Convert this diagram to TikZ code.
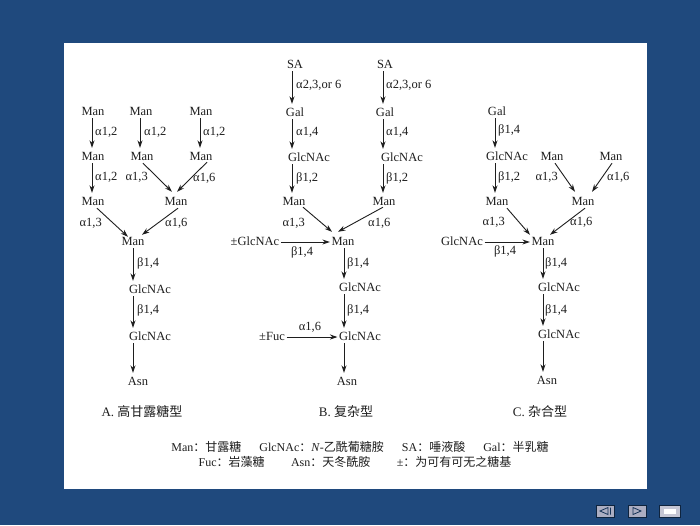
\documentclass[tikz,border=0pt]{standalone}
\usepackage{fontspec}
\setmainfont{Liberation Serif}
\newfontfamily\cjk{Noto Sans CJK SC}
\usepackage{xcolor}
\usepackage{tikz}
\usetikzlibrary{arrows.meta}
\definecolor{slide}{RGB}{31,73,125}
\definecolor{ink}{RGB}{30,30,30}
\definecolor{btn}{RGB}{172,174,194}

\begin{document}
\begin{tikzpicture}[x=1pt,y=-1pt,
    sug/.style={inner sep=1.5pt, text height=8pt, text depth=1pt, font=\fontsize{12.5}{14}\selectfont, text=ink},
    lab/.style={inner sep=0pt, font=\fontsize{12.5}{14}\selectfont, text=ink},
    key/.style={inner sep=0pt, font=\fontsize{12}{14}\selectfont, text=ink},
    bond/.style={draw=ink, line width=0.9pt, -{Stealth[length=7.5pt,width=5pt]}},
    vbond/.style={bond, shorten >=3pt}]
    \useasboundingbox (0,0) rectangle (700,525);
    \fill[slide] (0,0) rectangle (700,525);
    \fill[white] (64,43) rectangle (647,489);

    % columns of the vertical bonds
    \coordinate (ca1) at (92,0);
    \coordinate (ca2) at (140,0);
    \coordinate (ca3) at (200,0);
    \coordinate (ca) at (133,0);
    \coordinate (cb1) at (292,0);
    \coordinate (cb2) at (383,0);
    \coordinate (cb) at (344,0);
    \coordinate (cc1) at (495,0);
    \coordinate (cc) at (543,0);

    % A: high mannose
    \node[sug] (am11) at (93,112) {Man};
    \node[sug] (am12) at (141,112) {Man};
    \node[sug] (am13) at (201,112) {Man};
    \node[sug] (am21) at (93,157) {Man};
    \node[sug] (am22) at (142,157) {Man};
    \node[sug] (am23) at (201,157) {Man};
    \node[sug] (am31) at (93,202) {Man};
    \node[sug] (am32) at (176,202) {Man};
    \node[sug] (am4) at (133,242) {Man};
    \node[sug] (agn1) at (150,290) {GlcNAc};
    \node[sug] (agn2) at (150,337) {GlcNAc};
    \node[sug] (aasn) at (138,382) {Asn};
    \node[sug,font=\fontsize{13}{15}\selectfont] (capa) at (142,413) {A. {\cjk 高甘露糖型}};

    \draw[vbond] (am11.south -| ca1) -- (am21.north -| ca1);
    \draw[vbond] (am12.south -| ca2) -- (am22.north -| ca2);
    \draw[vbond] (am13.south -| ca3) -- (am23.north -| ca3);
    \draw[vbond] (am21.south -| ca1) -- (am31.north -| ca1);
    \draw[bond] ([xshift=1pt]am22.south) -- ([xshift=-4pt,yshift=4pt]am32.north);
    \draw[bond] ([xshift=6pt,yshift=1pt]am23.south) -- ([xshift=1pt,yshift=4pt]am32.north);
    \draw[bond] ([xshift=4pt]am31.south) -- ([xshift=-5pt,yshift=-1pt]am4.north);
    \draw[bond] ([xshift=2pt]am32.south) -- ([xshift=9pt,yshift=1pt]am4.north);
    \draw[vbond] (am4.south -| ca) -- (agn1.north -| ca);
    \draw[vbond] (agn1.south -| ca) -- (agn2.north -| ca);
    \draw[vbond] (agn2.south -| ca) -- (aasn.north -| ca);

    \node[lab,anchor=west] (la1) at (95,132) {α1,2};
    \node[lab,anchor=west] (la2) at (144,132) {α1,2};
    \node[lab,anchor=west] (la3) at (203,132) {α1,2};
    \node[lab,anchor=west] (la4) at (95,177) {α1,2};
    \node[lab,anchor=east] (la5) at (148,177) {α1,3};
    \node[lab,anchor=west] (la6) at (193,178) {α1,6};
    \node[lab,anchor=east] (la7) at (102,223) {α1,3};
    \node[lab,anchor=west] (la8) at (165,223) {α1,6};
    \node[lab,anchor=west] (la9) at (137,263) {β1,4};
    \node[lab,anchor=west] (la10) at (137,310) {β1,4};

    % B: complex
    \node[sug] (bsa1) at (295,65) {SA};
    \node[sug] (bgal1) at (295,113) {Gal};
    \node[sug] (bgn1) at (309,158) {GlcNAc};
    \node[sug] (bman1) at (294,202) {Man};
    \node[sug] (bsa2) at (385,65) {SA};
    \node[sug] (bgal2) at (385,113) {Gal};
    \node[sug] (bgn2) at (402,158) {GlcNAc};
    \node[sug] (bman2) at (384,202) {Man};
    \node[sug] (bman) at (343,242) {Man};
    \node[sug] (bgnx) at (255,242) {±GlcNAc};
    \node[sug] (bgn3) at (360,288) {GlcNAc};
    \node[sug] (bgn4) at (360,337) {GlcNAc};
    \node[sug] (bfuc) at (272,337) {±Fuc};
    \node[sug] (basn) at (347,382) {Asn};
    \node[sug,font=\fontsize{13}{15}\selectfont] (capb) at (346,413) {B. {\cjk 复杂型}};

    \draw[vbond] (bsa1.south -| cb1) -- (bgal1.north -| cb1);
    \draw[vbond] (bgal1.south -| cb1) -- (bgn1.north -| cb1);
    \draw[vbond] (bgn1.south -| cb1) -- (bman1.north -| cb1);
    \draw[vbond] (bsa2.south -| cb2) -- (bgal2.north -| cb2);
    \draw[vbond] (bgal2.south -| cb2) -- (bgn2.north -| cb2);
    \draw[vbond] (bgn2.south -| cb2) -- (bman2.north -| cb2);
    \draw[bond] ([xshift=9pt,yshift=1pt]bman1.south) -- ([xshift=-11pt,yshift=4pt]bman.north);
    \draw[bond] ([xshift=-1pt,yshift=1pt]bman2.south) -- ([xshift=-5pt,yshift=4pt]bman.north);
    \draw[bond] (bgnx) -- (bman);
    \draw[vbond] (bman.south -| cb) -- (bgn3.north -| cb);
    \draw[vbond] (bgn3.south -| cb) -- (bgn4.north -| cb);
    \draw[bond] (bfuc) -- (bgn4);
    \draw[vbond] (bgn4.south -| cb) -- (basn.north -| cb);

    \node[lab,anchor=west] (lb1) at (296,85) {α2,3,or 6};
    \node[lab,anchor=west] (lb2) at (296,132) {α1,4};
    \node[lab,anchor=west] (lb3) at (296,178) {β1,2};
    \node[lab,anchor=west] (lb4) at (386,85) {α2,3,or 6};
    \node[lab,anchor=west] (lb5) at (386,132) {α1,4};
    \node[lab,anchor=west] (lb6) at (386,178) {β1,2};
    \node[lab,anchor=east] (lb7) at (305,223) {α1,3};
    \node[lab,anchor=west] (lb8) at (368,223) {α1,6};
    \node[lab] (lb9) at (302,252) {β1,4};
    \node[lab,anchor=west] (lb10) at (347,263) {β1,4};
    \node[lab,anchor=west] (lb11) at (347,310) {β1,4};
    \node[lab] (lb12) at (310,327) {α1,6};

    % C: hybrid
    \node[sug] (cgal) at (497,112) {Gal};
    \node[sug] (cgn1) at (507,157) {GlcNAc};
    \node[sug] (cmt1) at (552,157) {Man};
    \node[sug] (cmt2) at (611,157) {Man};
    \node[sug] (cmm1) at (497,202) {Man};
    \node[sug] (cmm2) at (583,202) {Man};
    \node[sug] (cman) at (543,242) {Man};
    \node[sug] (cgnx) at (462,242) {GlcNAc};
    \node[sug] (cgn2) at (559,288) {GlcNAc};
    \node[sug] (cgn3) at (559,335) {GlcNAc};
    \node[sug] (casn) at (547,381) {Asn};
    \node[sug,font=\fontsize{13}{15}\selectfont] (capc) at (540,413) {C. {\cjk 杂合型}};

    \draw[vbond] (cgal.south -| cc1) -- (cgn1.north -| cc1);
    \draw[vbond] (cgn1.south -| cc1) -- (cmm1.north -| cc1);
    \draw[bond] ([xshift=3pt]cmt1.south) -- ([xshift=-8pt,yshift=4pt]cmm2.north);
    \draw[bond] ([xshift=1pt]cmt2.south) -- ([xshift=9pt,yshift=4pt]cmm2.north);
    \draw[bond] ([xshift=10pt]cmm1.south) -- ([xshift=-13pt,yshift=1pt]cman.north);
    \draw[bond] ([xshift=2pt]cmm2.south) -- ([xshift=7pt,yshift=1pt]cman.north);
    \draw[bond] (cgnx) -- (cman);
    \draw[vbond] (cman.south -| cc) -- (cgn2.north -| cc);
    \draw[vbond] (cgn2.south -| cc) -- (cgn3.north -| cc);
    \draw[vbond] (cgn3.south -| cc) -- (casn.north -| cc);

    \node[lab,anchor=west] (lc1) at (498,130) {β1,4};
    \node[lab,anchor=west] (lc2) at (498,177) {β1,2};
    \node[lab,anchor=east] (lc3) at (558,177) {α1,3};
    \node[lab,anchor=west] (lc4) at (607,177) {α1,6};
    \node[lab,anchor=east] (lc5) at (505,222) {α1,3};
    \node[lab,anchor=west] (lc6) at (570,222) {α1,6};
    \node[lab] (lc7) at (505,251) {β1,4};
    \node[lab,anchor=west] (lc8) at (545,263) {β1,4};
    \node[lab,anchor=west] (lc9) at (545,310) {β1,4};

    % key
    \node[key] (key1) at (360,447) {Man{\cjk ：甘露糖}\hspace{1.5em}GlcNAc{\cjk ：}\textit{N}-{\cjk 乙酰葡糖胺}\hspace{1.5em}SA{\cjk ：唾液酸}\hspace{1.5em}Gal{\cjk ：半乳糖}};
    \node[key] (key2) at (355,462) {Fuc{\cjk ：岩藻糖}\hspace{2.2em}Asn{\cjk ：天冬酰胺}\hspace{2.2em}±{\cjk ：为可有可无之糖基}};

    % slide buttons
    \draw[fill=btn, draw=slide!50!black, line width=1pt] (596,505) rectangle (614,517);
    \draw[slide!70!black, line width=0.8pt] (608,507.5) -- (600,511) -- (608,514.5) -- cycle (610.5,507.5) -- (610.5,514.5);
    \draw[fill=btn, draw=slide!50!black, line width=1pt] (628,505) rectangle (646,517);
    \draw[slide!70!black, line width=0.8pt] (633,507.5) -- (641,511) -- (633,514.5) -- cycle;
    \draw[fill=btn!70!white, draw=slide!50!black, line width=1pt] (659,505) rectangle (680,517);
    \fill[white] (664,509) rectangle (676,514);
\end{tikzpicture}
\end{document}
